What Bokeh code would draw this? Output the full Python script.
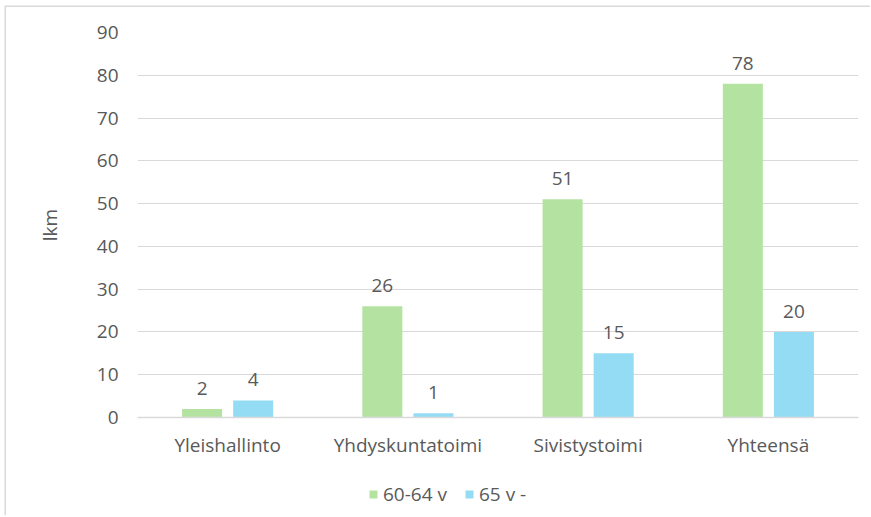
from bokeh.plotting import figure
from bokeh.models import (ColumnDataSource, FactorRange, Range1d, FixedTicker,
                          LabelSet, Legend, LegendItem)
from bokeh.layouts import column
from bokeh.core.properties import value
from bokeh.transform import dodge
from bokeh.embed import file_html
from bokeh.resources import INLINE

# ---- data ----
categories = ["Yleishallinto", "Yhdyskuntatoimi", "Sivistystoimi", "Yhteensä"]
series_names = ["60-64 v", "65 v -"]
values_60_64 = [2, 26, 51, 78]
values_65 = [4, 1, 15, 20]
y_ticks = [0, 10, 20, 30, 40, 50, 60, 70, 80, 90]
y_label = "lkm"

GREEN = "#B4E3A1"
BLUE = "#94DCF4"
TEXT = "#595959"
GRID = "#D9D9D9"
FONT = "Open Sans"
FS = "19px"

src = ColumnDataSource(dict(
    cat=categories,
    a=values_60_64,
    b=values_65,
    a_txt=[str(v) for v in values_60_64],
    b_txt=[str(v) for v in values_65],
))

p = figure(width=870, height=460, output_backend="svg", toolbar_location=None,
           x_range=FactorRange(*categories), y_range=Range1d(0, 90),
           min_border_left=137, min_border_right=12, min_border_top=32,
           min_border_bottom=43)
p.outline_line_color = None
p.background_fill_color = "white"
p.border_fill_color = None

off = 0.1417
bw = 0.222
p.vbar(x=dodge("cat", -off, range=p.x_range), top="a", width=bw, source=src,
       fill_color=GREEN, line_color=None)
p.vbar(x=dodge("cat", off, range=p.x_range), top="b", width=bw, source=src,
       fill_color=BLUE, line_color=None)

for col, o in (("a", -off), ("b", off)):
    lab = LabelSet(x=dodge("cat", o, range=p.x_range), y=col, text=col + "_txt",
                   source=src, text_align="center", text_baseline="alphabetic",
                   y_offset=14, text_font=value(FONT), text_font_size=value(FS),
                   text_color=TEXT)
    p.add_layout(lab)

# axes
p.yaxis.ticker = FixedTicker(ticks=y_ticks)
p.yaxis.axis_line_color = None
p.yaxis.major_tick_line_color = None
p.yaxis.minor_tick_line_color = None
p.yaxis.major_tick_out = 0
p.yaxis.major_tick_in = 0
p.yaxis.major_label_standoff = 19
p.yaxis.major_label_text_font = FONT
p.yaxis.major_label_text_font_size = FS
p.yaxis.major_label_text_color = TEXT
p.yaxis.axis_label = y_label
p.yaxis.axis_label_text_font = FONT
p.yaxis.axis_label_text_font_size = FS
p.yaxis.axis_label_text_font_style = "normal"
p.yaxis.axis_label_text_color = TEXT
p.yaxis.axis_label_standoff = 31

p.xaxis.axis_line_color = GRID
p.xaxis.axis_line_width = 1.5
p.xaxis.major_tick_line_color = None
p.xaxis.minor_tick_line_color = None
p.xaxis.major_tick_out = 0
p.xaxis.major_tick_in = 0
p.xaxis.major_label_standoff = 14
p.xaxis.major_label_text_font = FONT
p.xaxis.major_label_text_font_size = FS
p.xaxis.major_label_text_color = TEXT

p.xgrid.grid_line_color = None
p.ygrid.grid_line_color = GRID
p.ygrid.grid_line_width = 1.2

# ---- legend strip below the chart ----
leg = figure(width=870, height=55, output_backend="svg", toolbar_location=None,
             x_range=Range1d(0, 1), y_range=Range1d(0, 1),
             x_axis_location=None, y_axis_location=None,
             min_border=0)
leg.outline_line_color = None
leg.background_fill_color = None
leg.border_fill_color = None
leg.grid.visible = False
# swatch sources kept outside the visible range; only the legend shows them
la = leg.vbar(x=[-5.0], top=[-5.0], width=0.1, fill_color=GREEN, line_color=None)
lb = leg.vbar(x=[-5.0], top=[-5.0], width=0.1, fill_color=BLUE, line_color=None)
legend = Legend(items=[LegendItem(label=series_names[0], renderers=[la]),
                       LegendItem(label=series_names[1], renderers=[lb])],
                orientation="horizontal", location=(231, 8),
                glyph_width=10, glyph_height=10, label_standoff=5, spacing=17,
                padding=0, margin=0, border_line_color=None,
                background_fill_alpha=0,
                label_text_font=FONT, label_text_font_size=FS,
                label_text_color=TEXT, label_height=14)
leg.add_layout(legend)

layout = column(p, leg, spacing=0)
layout.styles = {"box-shadow": "inset 4.5px 5.5px 0 0 #FFFFFF, inset 6px 7px 0 0 #D9D9D9"}

open("out.html", "w").write(file_html(layout, INLINE))
